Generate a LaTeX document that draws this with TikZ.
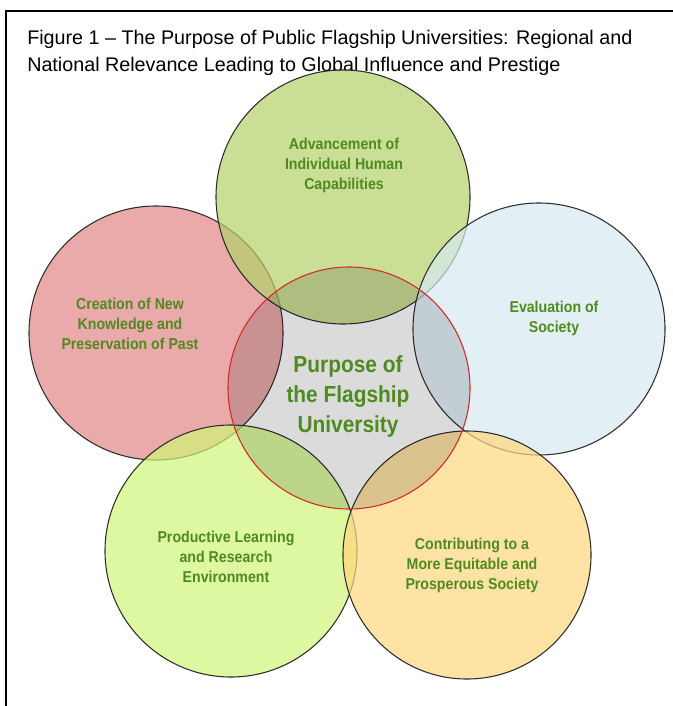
\documentclass[tikz,border=0pt]{standalone}
\usepackage{fontspec}
\setmainfont{Liberation Sans}
\definecolor{petalPink}{RGB}{226,134,134}
\definecolor{petalGreen}{RGB}{179,208,105}
\definecolor{petalBlue}{RGB}{214,234,242}
\definecolor{petalLime}{RGB}{207,245,119}
\definecolor{petalOrange}{RGB}{255,215,126}
\definecolor{rimGray}{RGB}{45,45,45}
\definecolor{hubRed}{RGB}{215,40,35}
\definecolor{txtGreen}{RGB}{79,138,32}
\tikzset{
  petal/.style={draw=rimGray, line width=0.8pt, fill opacity=0.7},
  petaltext/.style={text=txtGreen, align=center, xscale=0.9, font=\fontsize{11.8pt}{15pt}\selectfont\bfseries},
  hubtext/.style={text=txtGreen, align=center, xscale=0.9, font=\fontsize{17.4pt}{22.5pt}\selectfont\bfseries}
}
\begin{document}
\begin{tikzpicture}[x=0.75pt,y=0.75pt,yscale=-1]
        \useasboundingbox (0,0) rectangle (673,706);
        % frame
        \draw [line width=1.5pt] (6,706) -- (6,11) -- (673,11) ;
        \node [anchor=north west, inner sep=0pt, align=left, font=\fontsize{14.8pt}{20.25pt}\selectfont] (title) at (27,30) {Figure 1 -- The Purpose of Public Flagship Universities: Regional and\\National Relevance Leading to Global Influence and Prestige};
        % petals
        \draw [petal, fill=petalPink] (156,333) circle (127) ;
        \draw [petal, fill=petalGreen] (343,197) circle (127) ;
        \draw [petal, fill=petalBlue] (539,329) circle (126) ;
        \draw [petal, fill=petalLime] (231,551) circle (126) ;
        \draw [petal, fill=petalOrange] (467,555) circle (124) ;
        % hub
        \fill [black, fill opacity=0.14] (349,388) circle (121) ;
        \draw [hubRed, line width=0.8pt] (349,388) circle (121) ;
        \node [petaltext] (advance) at (344,165) {Advancement of\\Individual Human\\Capabilities};
        \node [petaltext] (creation) at (130,324) {Creation of New\\Knowledge and\\Preservation of Past};
        \node [petaltext] (evaluation) at (554,318) {Evaluation of\\Society};
        \node [petaltext] (learning) at (226,557) {Productive Learning\\and Research\\Environment};
        \node [petaltext] (society) at (472,565) {Contributing to a\\More Equitable and\\Prosperous Society};
        \node [hubtext] (hub) at (348,396) {Purpose of\\the Flagship\\University};
\end{tikzpicture}
\end{document}
